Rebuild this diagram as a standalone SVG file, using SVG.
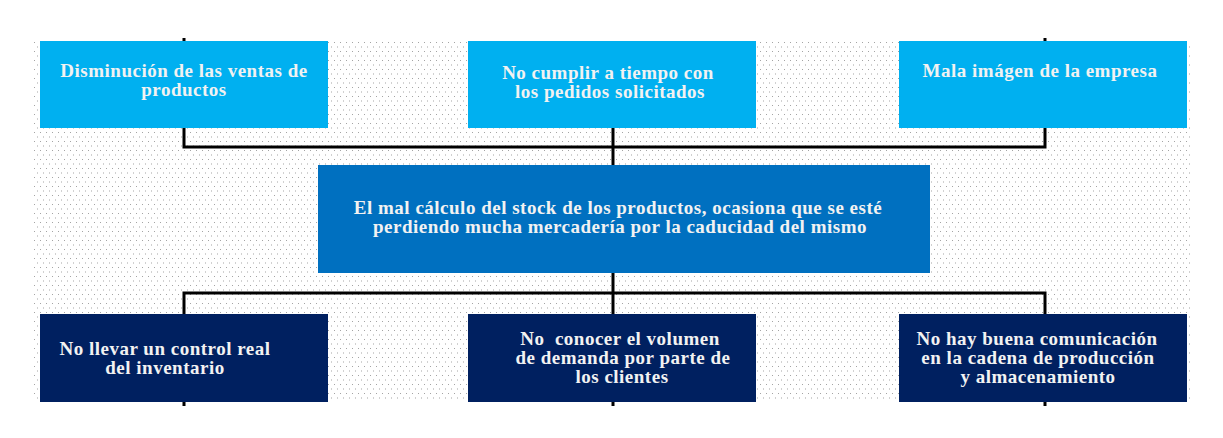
<svg xmlns="http://www.w3.org/2000/svg" width="1223" height="438" viewBox="0 0 1223 438">
<defs>
<pattern id="dots" x="34" y="42" width="6" height="9" patternUnits="userSpaceOnUse">
<rect x="0" y="0" width="1" height="1" fill="#a4a4a4"/>
<rect x="3" y="4.5" width="1" height="1" fill="#a4a4a4"/>
</pattern>
<style>
.t{font-family:"Liberation Serif","Times New Roman",serif;font-weight:bold;font-size:19px;letter-spacing:0.5px;fill:#F2F2F2;text-anchor:middle}
.c1{fill:#00B0F0}
.c2{fill:#0070C0}
.c3{fill:#002060}
.ln{stroke:#000;stroke-width:3;fill:none}
</style>
</defs>
<rect x="0" y="0" width="1223" height="438" fill="#fff"/>
<rect x="34" y="42" width="1158" height="358" fill="url(#dots)"/>
<g id="connectors">
<path class="ln" d="M184 38 V147 H1045 V38 M613 128 V165"/>
<path class="ln" d="M184 406 V293 H1045 V406 M613 273 V406"/>
</g>
<g id="effect1">
<rect class="c1" x="40" y="41" width="288" height="87"/>
<text class="t" x="184" y="77">Disminución de las ventas de</text>
<text class="t" x="184" y="96">productos</text>
</g>
<g id="effect2">
<rect class="c1" x="468" y="41" width="288" height="87"/>
<text class="t" x="608" y="79">No cumplir a tiempo con</text>
<text class="t" x="610" y="98">los pedidos solicitados</text>
</g>
<g id="effect3">
<rect class="c1" x="899" y="41" width="288" height="87"/>
<text class="t" x="1040" y="77">Mala imágen de la empresa</text>
</g>
<g id="problem">
<rect class="c2" x="318" y="165" width="612" height="108"/>
<text class="t" x="618" y="214">El mal cálculo del stock de los productos, ocasiona que se esté</text>
<text class="t" x="620" y="233">perdiendo mucha mercadería por la caducidad del mismo</text>
</g>
<g id="cause1">
<rect class="c3" x="40" y="314" width="288" height="88"/>
<text class="t" x="165" y="355">No llevar un control real</text>
<text class="t" x="165" y="374">del inventario</text>
</g>
<g id="cause2">
<rect class="c3" x="468" y="314" width="288" height="88"/>
<text class="t" x="620" y="345" xml:space="preserve">No  conocer el volumen</text>
<text class="t" x="623" y="364">de demanda por parte de</text>
<text class="t" x="622" y="383">los clientes</text>
</g>
<g id="cause3">
<rect class="c3" x="899" y="314" width="288" height="88"/>
<text class="t" x="1037" y="345">No hay buena comunicación</text>
<text class="t" x="1038" y="364">en la cadena de producción</text>
<text class="t" x="1038" y="383">y almacenamiento</text>
</g>
</svg>
